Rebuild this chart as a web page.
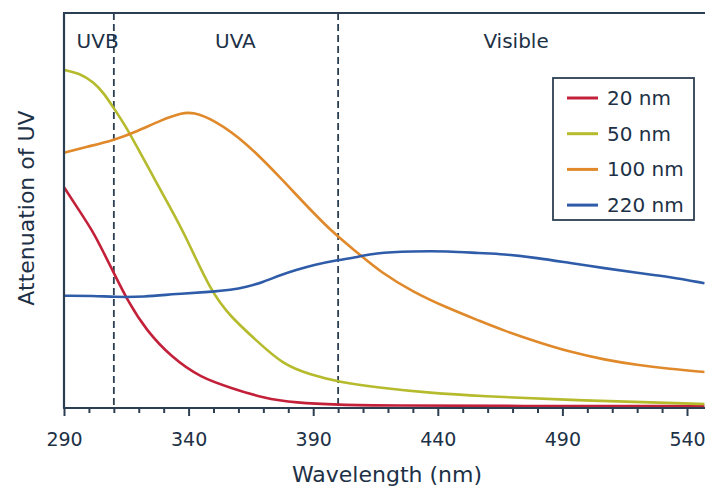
<!DOCTYPE html>
<html>
<head>
<meta charset="utf-8">
<script src="https://d3js.org/d3.v7.min.js"></script>
<style>
  body { margin: 0; background: #fff; }
  svg { display: block; }
  text { font-family: "DejaVu Sans", sans-serif; fill: #1d3146; }
</style>
</head>
<body>
<div id="chart"></div>
<script>
WIDTH = 705;
HEIGHT = 488;

// Series (attenuation in arbitrary units, 0-100)
var wl20 = [290, 296, 302, 306, 310, 316, 323, 333, 345, 357, 370, 383, 400, 420, 470, 547];
var att20 = [55.9, 50.1, 44.3, 39.2, 34.2, 26.6, 19.7, 12.9, 7.6, 5.1, 2.5, 1.3, 0.8, 0.6, 0.5, 0.5];

var wl50 = [290, 296, 302, 306, 310, 315, 320, 327, 333, 339, 349, 357, 367, 378, 389, 400, 417, 437, 457, 493, 533, 547];
var att50 = [85.6, 84.8, 82.5, 79.7, 75.9, 71.1, 65.3, 57.2, 50.3, 43.3, 29.4, 23.0, 17.2, 10.9, 8.4, 6.6, 5.1, 3.8, 3.0, 2.0, 1.3, 1.0];

var wl100 = [290, 299, 310, 319, 329, 337, 342, 350, 363, 377, 390, 399, 408, 417, 430, 444, 457, 466, 480, 493, 507, 520, 533, 547];
var att100 = [64.6, 66.1, 67.8, 69.9, 72.9, 74.7, 74.9, 73.0, 67.3, 58.2, 49.4, 43.8, 39.2, 34.4, 29.4, 25.3, 22.0, 19.7, 16.7, 14.2, 12.2, 10.9, 9.9, 9.1];

var wl220 = [290, 302, 310, 322, 335, 349, 357, 363, 370, 377, 383, 390, 400, 408, 414, 430, 444, 457, 466, 480, 493, 507, 520, 533, 547];
var att220 = [28.4, 28.4, 28.1, 28.1, 28.9, 29.4, 29.9, 30.6, 31.9, 33.7, 34.9, 36.2, 37.5, 38.2, 39.2, 39.7, 39.7, 39.2, 39.0, 38.0, 36.7, 35.4, 34.2, 33.2, 31.6];

var seriesNames = ["20 nm", "50 nm", "100 nm", "220 nm"];
var seriesColors = ["#c3203a", "#b5bb2c", "#e0892b", "#2f5ca8"];

var regionNames = ["UVB", "UVA", "Visible"];
var regionBounds = [310, 400];
var tickLabels = [290, 340, 390, 440, 490, 540];

var frameColor = "#2c3f52";

var margin = { top: 13, left: 64, bottom: 80 };
var plotBottom = HEIGHT - margin.bottom; // 408

var svg = d3
  .select("#chart")
  .append("svg")
  .attr("width", WIDTH)
  .attr("height", HEIGHT);

const xScale = d3
  .scaleLinear()
  .domain([290, 550])
  .range([margin.left, margin.left + 260 * 2.492]);
const yScale = d3
  .scaleLinear()
  .domain([0, 100])
  .range([plotBottom, margin.top]);

var series = [
  { x: wl20, y: att20 },
  { x: wl50, y: att50 },
  { x: wl100, y: att100 },
  { x: wl220, y: att220 }
];

// clip to plot
svg
  .append("clipPath")
  .attr("id", "plot-clip")
  .append("rect")
  .attr("x", margin.left)
  .attr("y", margin.top)
  .attr("width", WIDTH - margin.left)
  .attr("height", plotBottom - margin.top);

// region boundaries
svg
  .append("g")
  .selectAll("line")
  .data(regionBounds)
  .enter()
  .append("line")
  .attr("x1", d => xScale(d))
  .attr("x2", d => xScale(d))
  .attr("y1", margin.top)
  .attr("y2", plotBottom)
  .attr("stroke", frameColor)
  .attr("stroke-width", 1.8)
  .attr("stroke-dasharray", "7,4");

// region labels (centred by eye on the figure)
var regionAt = [303.5, 358.8, 471.4];
svg
  .append("g")
  .selectAll("text")
  .data(regionNames)
  .enter()
  .append("text")
  .attr("x", (d, i) => xScale(regionAt[i]))
  .attr("y", 48)
  .attr("text-anchor", "middle")
  .style("font-size", "20px")
  .text(d => d);

// curves
var line = d3
  .line()
  .x(d => xScale(d[0]))
  .y(d => yScale(d[1]))
  .curve(d3.curveBasis);

var line_g = svg.append("g").attr("clip-path", "url(#plot-clip)");
series.forEach(function(s, i) {
  line_g
    .append("path")
    .datum(d3.zip(s.x, s.y))
    .attr("d", line)
    .attr("fill", "none")
    .attr("stroke", seriesColors[i])
    .attr("stroke-width", 2.6)
    .attr("stroke-linejoin", "round");
});

// frame
var frame_g = svg.append("g").attr("stroke", frameColor).attr("stroke-width", 2.2);
frame_g
  .append("line")
  .attr("x1", margin.left)
  .attr("x2", margin.left)
  .attr("y1", margin.top)
  .attr("y2", plotBottom);
frame_g
  .append("line")
  .attr("x1", margin.left - 1)
  .attr("x2", WIDTH)
  .attr("y1", margin.top)
  .attr("y2", margin.top);
frame_g
  .append("line")
  .attr("x1", margin.left - 1)
  .attr("x2", WIDTH)
  .attr("y1", plotBottom)
  .attr("y2", plotBottom);

// x axis
var xAxis = d3
  .axisBottom(xScale)
  .tickValues(d3.range(290, 550, 10))
  .tickSize(5)
  .tickFormat(d => (tickLabels.includes(d) ? d : ""));

var ax = svg
  .append("g")
  .attr("transform", "translate(0," + plotBottom + ")")
  .call(xAxis);
ax.select(".domain").remove();
ax.selectAll(".tick line")
  .attr("y2", d => (tickLabels.includes(d) ? 8 : 5))
  .attr("stroke", frameColor)
  .attr("stroke-width", 2);
ax.selectAll(".tick text")
  .attr("y", 38)
  .attr("dy", 0)
  .style("font-size", "19px")
  .style("font-family", "DejaVu Sans, sans-serif")
  .attr("fill", "#1d3146");

// axis titles
svg
  .append("text")
  .attr("x", 387)
  .attr("y", 482)
  .attr("text-anchor", "middle")
  .style("font-size", "22px")
  .text("Wavelength (nm)");

svg
  .append("text")
  .attr("transform", "translate(34,208) rotate(-90)")
  .attr("text-anchor", "middle")
  .style("font-size", "22px")
  .text("Attenuation of UV");

// legend
var legend_g = svg.append("g").attr("transform", "translate(553,78)");
legend_g
  .append("rect")
  .attr("width", 141)
  .attr("height", 142)
  .attr("fill", "#fff")
  .attr("stroke", frameColor)
  .attr("stroke-width", 1.8);

var item = legend_g
  .selectAll("g.item")
  .data(seriesNames)
  .enter()
  .append("g")
  .attr("class", "item")
  .attr("transform", (d, i) => "translate(0," + (20 + i * 35.7) + ")");
item
  .append("line")
  .attr("x1", 14)
  .attr("x2", 45)
  .attr("stroke", (d, i) => seriesColors[i])
  .attr("stroke-width", 3);
item
  .append("text")
  .attr("x", 54)
  .attr("y", 7)
  .style("font-size", "20px")
  .text(d => d);
</script>
</body>
</html>
